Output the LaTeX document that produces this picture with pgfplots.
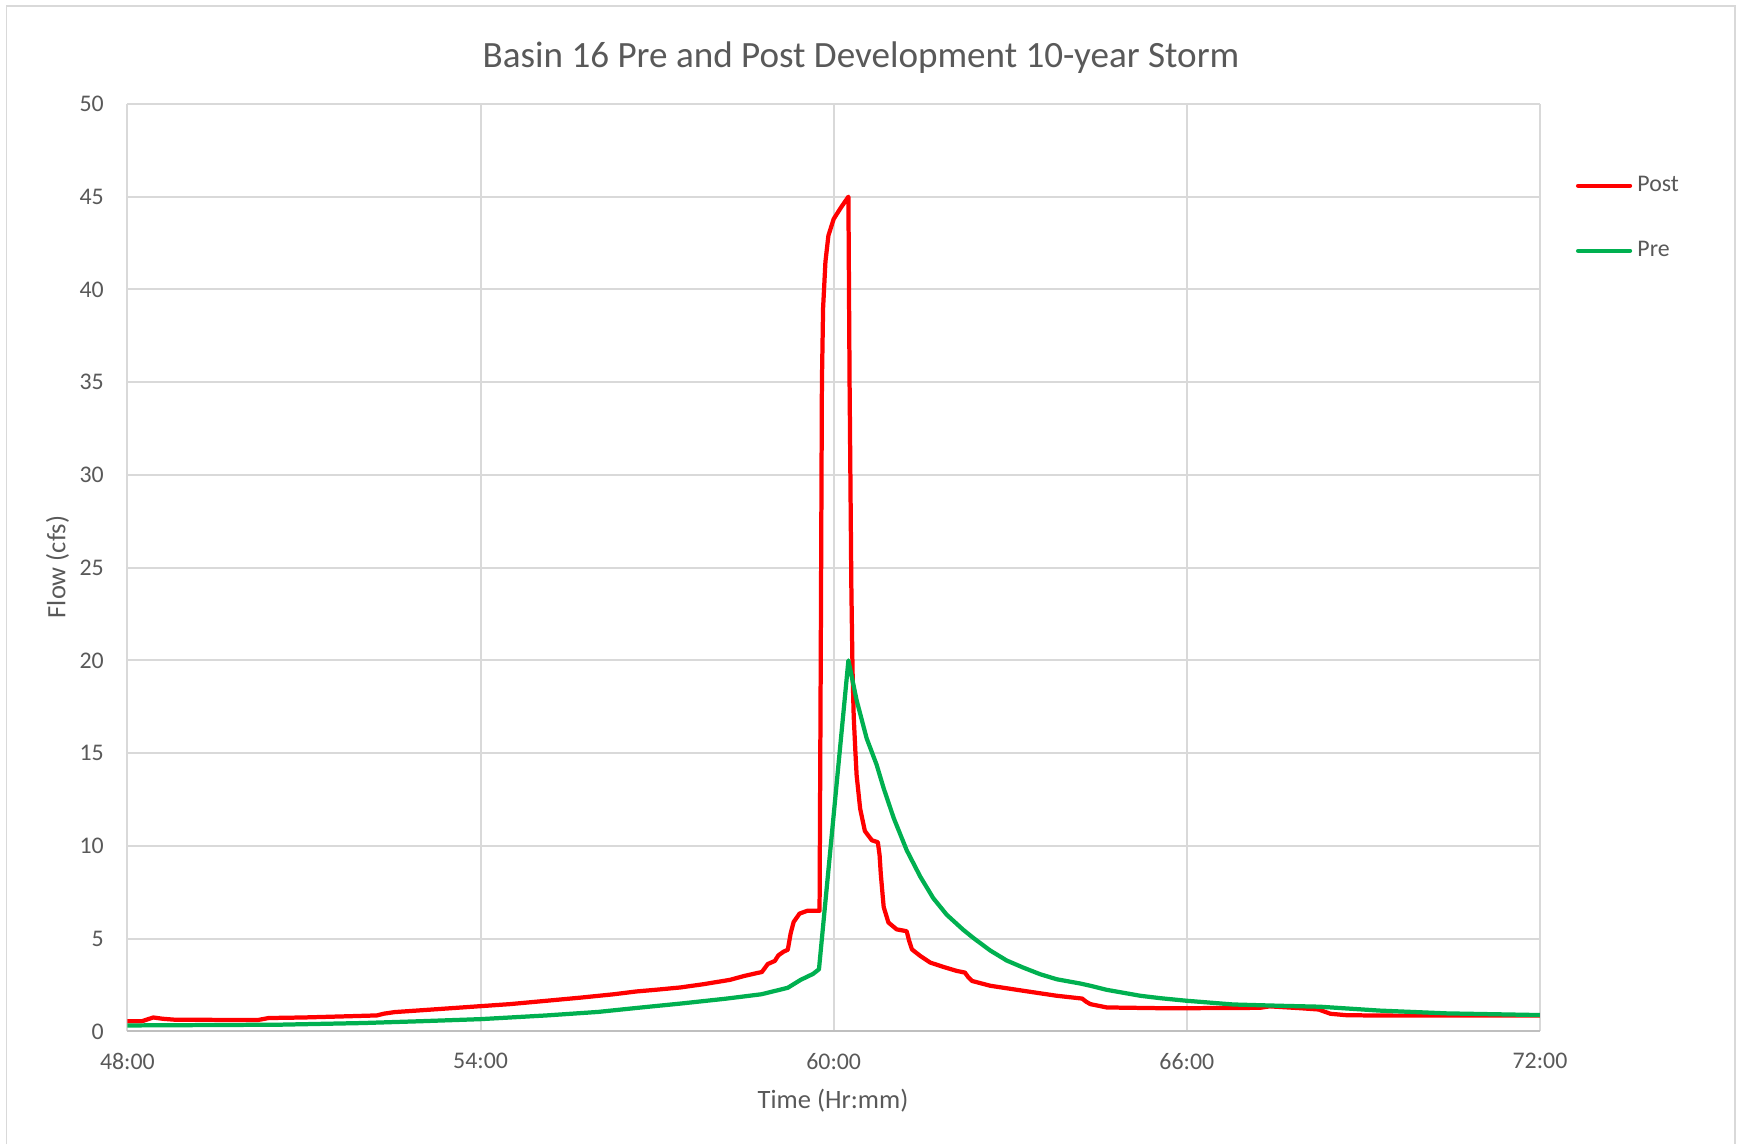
\documentclass[border=0pt]{standalone}
\usepackage{fontspec}
\setmainfont{Carlito}
\usepackage{pgfplots}
\pgfplotsset{compat=1.18}
\definecolor{postred}{HTML}{FF0000}
\definecolor{pregreen}{HTML}{00B050}
\definecolor{txt}{HTML}{595959}
\definecolor{grd}{HTML}{D9D9D9}
\definecolor{axl}{HTML}{BFBFBF}
\begin{document}
\begin{tikzpicture}[x=0.3774pt,y=0.3774pt]
\path[use as bounding box] (0,0) rectangle (1737,1144);
\draw[grd, line width=0.75pt] (6.5,0) -- (6.5,1138.3) -- (1735,1138.3) -- (1735,0);
\begin{axis}[
  at={(48.08pt,42.50pt)}, anchor=south west,
  scale only axis, width=533.1pt, height=350.0pt,
  xmin=48, xmax=72, ymin=0, ymax=50,
  xtick={48,54,60,66,72},
  xticklabels={48:00,54:00,60:00,66:00,72:00},
  ytick={0,5,10,15,20,25,30,35,40,45,50},
  /pgf/number format/assume math mode=true,
  major tick length=0pt,
  tick style={draw=none},
  grid=major,
  major grid style={grd, line width=0.75pt},
  axis x line*=bottom, axis y line*=left,
  x axis line style={-, axl, line width=0.75pt},
  y axis line style={draw=none},
  ticklabel style={font=\fontsize{9}{11}\selectfont, text=txt},
  yticklabel style={xshift=-5.4pt},
  xticklabel style={yshift=-4.6pt},
  legend style={draw=none, fill=none, inner sep=0pt, outer sep=0pt,
    at={(1.0255,0.928)}, anchor=north west,
    font=\fontsize{9}{11}\selectfont, text=txt,
    row sep=13.3pt},
  legend cell align=left,
  legend image code/.code={\draw[#1, line cap=round] (0pt,0pt) -- (19.6pt,0pt);},
  line join=round,
]
\addplot[postred, line width=1.6pt] coordinates {
(48.00,0.55) (48.25,0.55) (48.44,0.75) (48.60,0.68) (48.80,0.63) (49.50,0.62)
(50.23,0.62) (50.40,0.72) (51.00,0.75) (51.80,0.82) (52.24,0.86) (52.35,0.95)
(52.54,1.04) (53.00,1.14) (53.50,1.25) (54.00,1.36) (54.50,1.47) (55.12,1.65)
(55.70,1.82) (56.26,2.00) (56.64,2.15) (57.00,2.25) (57.40,2.37) (57.80,2.55)
(58.24,2.78) (58.47,2.98) (58.69,3.14) (58.78,3.20) (58.88,3.63) (59.00,3.80)
(59.06,4.10) (59.15,4.30) (59.22,4.40) (59.27,5.30) (59.32,5.90) (59.42,6.35)
(59.55,6.50) (59.76,6.50) (59.78,20.0) (59.80,35.0) (59.82,39.0) (59.86,41.5)
(59.91,42.9) (60.00,43.8) (60.12,44.4) (60.25,45.0) (60.27,35.0) (60.30,24.0)
(60.32,19.5) (60.34,17.0) (60.37,15.0) (60.39,13.8) (60.45,12.0) (60.53,10.8)
(60.65,10.3) (60.75,10.2) (60.78,9.5) (60.80,8.5) (60.83,7.4) (60.85,6.7)
(60.93,5.87) (61.07,5.5) (61.24,5.4) (61.28,4.9) (61.33,4.42) (61.47,4.07)
(61.64,3.71) (61.86,3.48) (62.09,3.26) (62.23,3.17) (62.28,2.95) (62.35,2.72)
(62.66,2.46) (63.22,2.19) (63.79,1.92) (64.22,1.77) (64.29,1.6) (64.36,1.47)
(64.64,1.29) (65.55,1.25) (66.00,1.25) (67.24,1.27) (67.41,1.35) (67.93,1.25)
(68.24,1.18) (68.44,0.95) (68.72,0.87) (69.50,0.85) (72.00,0.85)
};
\addlegendentry{Post}
\addplot[pregreen, line width=1.6pt] coordinates {
(48.00,0.32) (50.57,0.36) (52.00,0.45) (53.00,0.55) (54.00,0.66) (55.12,0.86)
(56.00,1.05) (56.64,1.26) (57.40,1.50) (58.16,1.76) (58.77,2.00) (59.22,2.35)
(59.44,2.78) (59.65,3.10) (59.75,3.35) (60.25,20.0) (60.39,17.85) (60.56,15.8)
(60.73,14.37) (60.85,13.1) (61.02,11.5) (61.24,9.77) (61.47,8.35) (61.69,7.19)
(61.92,6.29) (62.20,5.48) (62.38,5.02) (62.66,4.36) (62.94,3.82) (63.22,3.44)
(63.51,3.08) (63.79,2.81) (64.19,2.58) (64.36,2.46) (64.64,2.24) (65.21,1.92)
(65.55,1.79) (66.00,1.65) (66.79,1.45) (67.59,1.38) (68.26,1.33) (69.28,1.12)
(70.42,0.97) (72.00,0.88)
};
\addlegendentry{Pre}
\end{axis}
\node[text=txt, font=\fontsize{14}{17}\selectfont] at (861,1086.4) {Basin 16 Pre and Post Development 10-year Storm};
\node[text=txt, font=\fontsize{10}{12}\selectfont, rotate=90] at (57.6,577) {Flow (cfs)};
\node[text=txt, font=\fontsize{10}{12}\selectfont] at (833,43) {Time (Hr:mm)};
\end{tikzpicture}
\end{document}
